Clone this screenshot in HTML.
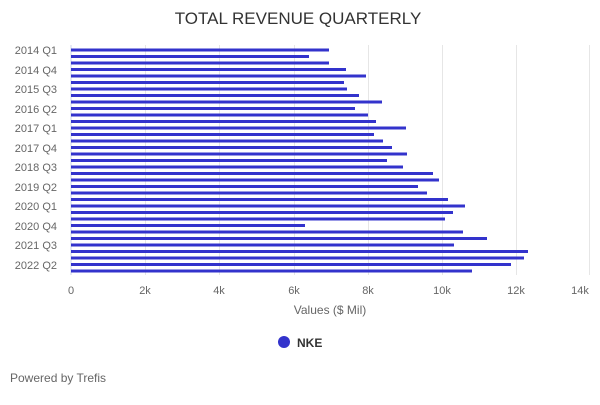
<!DOCTYPE html>
<html><head><meta charset="utf-8"><style>
body{margin:0;background:#fff;width:600px;height:400px;overflow:hidden;font-family:"Liberation Sans","DejaVu Sans",sans-serif}
</style></head><body>
<svg width="600" height="400" xmlns="http://www.w3.org/2000/svg" font-family="Liberation Sans, DejaVu Sans, sans-serif">
<text x="298" y="24" text-anchor="middle" font-size="17" fill="#333">TOTAL REVENUE QUARTERLY</text>
<g stroke="#e6e6e6" stroke-width="1">
<line x1="145.5" y1="45" x2="145.5" y2="275"/><line x1="219.5" y1="45" x2="219.5" y2="275"/>
<line x1="294.5" y1="45" x2="294.5" y2="275"/><line x1="368.5" y1="45" x2="368.5" y2="275"/>
<line x1="442.5" y1="45" x2="442.5" y2="275"/><line x1="516.5" y1="45" x2="516.5" y2="275"/>
<line x1="589.5" y1="45" x2="589.5" y2="275"/>
</g>
<line x1="71" y1="45" x2="71" y2="275" stroke="#ccd6eb"/>
<g fill="#3333cc">
<rect x="71" y="48.5" width="258" height="3"/>
<rect x="71" y="55" width="238" height="3"/>
<rect x="71" y="61.5" width="258" height="3"/>
<rect x="71" y="68" width="275" height="3"/>
<rect x="71" y="74.5" width="295" height="3"/>
<rect x="71" y="81" width="273" height="3"/>
<rect x="71" y="87.5" width="276" height="3"/>
<rect x="71" y="94" width="288" height="3"/>
<rect x="71" y="100.5" width="311" height="3"/>
<rect x="71" y="107" width="284" height="3"/>
<rect x="71" y="113.5" width="297" height="3"/>
<rect x="71" y="120" width="305" height="3"/>
<rect x="71" y="126.5" width="335" height="3"/>
<rect x="71" y="133" width="303" height="3"/>
<rect x="71" y="139.5" width="312" height="3"/>
<rect x="71" y="146" width="321" height="3"/>
<rect x="71" y="152.5" width="336" height="3"/>
<rect x="71" y="159" width="316" height="3"/>
<rect x="71" y="165.5" width="332" height="3"/>
<rect x="71" y="172" width="362" height="3"/>
<rect x="71" y="178.5" width="368" height="3"/>
<rect x="71" y="185" width="347" height="3"/>
<rect x="71" y="191.5" width="356" height="3"/>
<rect x="71" y="198" width="377" height="3"/>
<rect x="71" y="204.5" width="394" height="3"/>
<rect x="71" y="211" width="382" height="3"/>
<rect x="71" y="217.5" width="374" height="3"/>
<rect x="71" y="224" width="234" height="3"/>
<rect x="71" y="230.5" width="392" height="3"/>
<rect x="71" y="237" width="416" height="3"/>
<rect x="71" y="243.5" width="383" height="3"/>
<rect x="71" y="250" width="457" height="3"/>
<rect x="71" y="256.5" width="453" height="3"/>
<rect x="71" y="263" width="440" height="3"/>
<rect x="71" y="269.5" width="401" height="3"/>
</g>
<g font-size="11" fill="#666" text-anchor="end">
<text x="57" y="54">2014 Q1</text><text x="57" y="74">2014 Q4</text><text x="57" y="93">2015 Q3</text>
<text x="57" y="113">2016 Q2</text><text x="57" y="132">2017 Q1</text><text x="57" y="152">2017 Q4</text>
<text x="57" y="171">2018 Q3</text><text x="57" y="191">2019 Q2</text><text x="57" y="210">2020 Q1</text>
<text x="57" y="230">2020 Q4</text><text x="57" y="249">2021 Q3</text><text x="57" y="269">2022 Q2</text>
</g>
<g font-size="11" fill="#666" text-anchor="middle">
<text x="71" y="294">0</text><text x="145" y="294">2k</text><text x="219" y="294">4k</text>
<text x="294" y="294">6k</text><text x="368" y="294">8k</text><text x="442" y="294">10k</text>
<text x="516" y="294">12k</text><text x="580" y="294">14k</text>
</g>
<text x="330" y="314" text-anchor="middle" font-size="12" fill="#666">Values ($ Mil)</text>
<circle cx="284" cy="342" r="6" fill="#3333cc"/>
<text x="297" y="347" font-size="12" font-weight="bold" fill="#333">NKE</text>
<text x="10" y="382" font-size="12" fill="#666">Powered by Trefis</text>
</svg>
</body></html>
